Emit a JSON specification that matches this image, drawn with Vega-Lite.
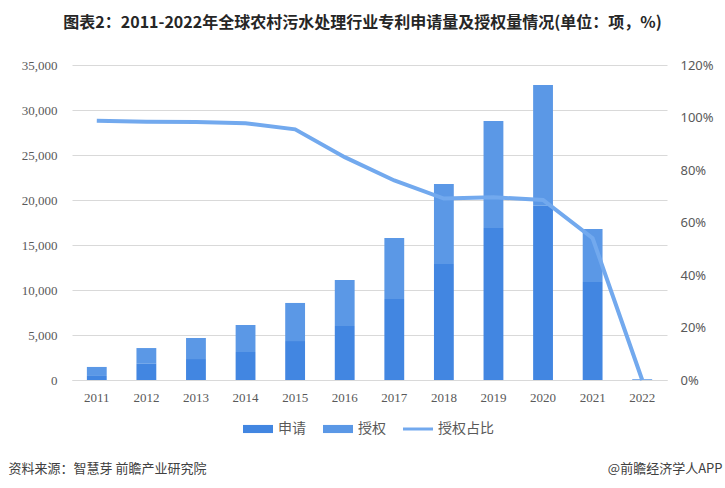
{
  "$schema": "https://vega.github.io/schema/vega-lite/v6.json",
  "width": 595,
  "height": 315,
  "autosize": {"type": "none"},
  "padding": {"left": 72, "top": 65, "right": 58, "bottom": 108},
  "background": "white",
  "title": {
    "text": "图表2：2011-2022年全球农村污水处理行业专利申请量及授权量情况(单位：项，%)",
    "font": "Noto Sans CJK SC",
    "fontSize": 16,
    "fontWeight": "bold",
    "color": "#262626",
    "anchor": "middle",
    "dx": -7,
    "offset": 28
  },
  "data": {
    "values": [
      {"year": "2011", "申请": 450, "授权": 1000, "授权占比": 0.988},
      {"year": "2012", "申请": 1800, "授权": 1750, "授权占比": 0.984},
      {"year": "2013", "申请": 2330, "授权": 2340, "授权占比": 0.983},
      {"year": "2014", "申请": 3110, "授权": 3000, "授权占比": 0.978},
      {"year": "2015", "申请": 4330, "授权": 4230, "授权占比": 0.955},
      {"year": "2016", "申请": 6000, "授权": 5110, "授权占比": 0.849},
      {"year": "2017", "申请": 9000, "授权": 6780, "授权占比": 0.760},
      {"year": "2018", "申请": 12890, "授权": 8890, "授权占比": 0.691},
      {"year": "2019", "申请": 16890, "授权": 11890, "授权占比": 0.696},
      {"year": "2020", "申请": 19370, "授权": 13410, "授权占比": 0.686},
      {"year": "2021", "申请": 10890, "授权": 5890, "授权占比": 0.540},
      {"year": "2022", "申请": 60, "授权": 40, "授权占比": 0.0}
    ]
  },
  "layer": [
    {
      "transform": [{"fold": ["申请", "授权"], "as": ["series", "value"]}],
      "mark": {"type": "bar"},
      "encoding": {
        "x": {
          "field": "year",
          "type": "ordinal",
          "scale": {"paddingInner": 0.6, "paddingOuter": 0.3},
          "axis": {
            "title": null,
            "labelAngle": 0,
            "ticks": false,
            "tickSize": 0,
            "labelPadding": 11,
            "labelFont": "Liberation Serif",
            "labelFontSize": 13,
            "labelColor": "#595959",
            "domainColor": "#d9d9d9",
            "domainWidth": 1
          }
        },
        "y": {
          "field": "value",
          "type": "quantitative",
          "stack": "zero",
          "scale": {"domain": [0, 35000]},
          "axis": {
            "values": [0, 5000, 10000, 15000, 20000, 25000, 30000, 35000],
            "format": ",.0f",
            "ticks": false,
            "tickSize": 0,
            "domain": false,
            "labelPadding": 15,
            "labelFont": "Liberation Serif",
            "labelFontSize": 13,
            "labelColor": "#595959",
            "gridColor": "#d9d9d9",
            "gridWidth": 1,
            "title": "资料来源：智慧芽 前瞻产业研究院",
            "titleAngle": 0,
            "titleAlign": "left",
            "titleBaseline": "middle",
            "titleX": -64,
            "titleY": 403,
            "titleFont": "Noto Sans CJK SC",
            "titleFontSize": 13,
            "titleFontWeight": "normal",
            "titleColor": "#404040"
          }
        },
        "color": {
          "field": "series",
          "type": "nominal",
          "scale": {"domain": ["申请", "授权"], "range": ["#4286E1", "#5B98E6"]},
          "legend": null
        },
        "order": {"field": "series", "sort": "descending"}
      }
    },
    {
      "mark": {"type": "line", "strokeWidth": 4, "color": "#72A9EE"},
      "encoding": {
        "x": {"field": "year", "type": "ordinal"},
        "y": {
          "field": "授权占比",
          "type": "quantitative",
          "scale": {"domain": [0, 1.2]},
          "axis": {
            "orient": "right",
            "values": [0, 0.2, 0.4, 0.6, 0.8, 1.0, 1.2],
            "format": ".0%",
            "grid": false,
            "ticks": false,
            "tickSize": 0,
            "domain": false,
            "labelPadding": 13,
            "labelFont": "Noto Sans",
            "labelFontSize": 13,
            "labelColor": "#595959",
            "title": "@前瞻经济学人APP",
            "titleAngle": 0,
            "titleAlign": "right",
            "titleBaseline": "middle",
            "titleX": 55,
            "titleY": 403,
            "titleFont": "Noto Sans CJK SC",
            "titleFontSize": 13,
            "titleFontWeight": "normal",
            "titleColor": "#404040"
          }
        }
      }
    },
    {
      "transform": [{"fold": ["申请", "授权", "授权占比"], "as": ["series", "v"]}],
      "mark": {"type": "point", "filled": true, "opacity": 0},
      "encoding": {
        "x": {"field": "year", "type": "ordinal"},
        "color": {
          "field": "series",
          "type": "nominal",
          "scale": {"domain": ["申请", "授权", "授权占比"], "range": ["#4286E1", "#5B98E6", "#72A9EE"]},
          "legend": {"title": null}
        },
        "shape": {
          "field": "series",
          "type": "nominal",
          "scale": {
            "domain": ["申请", "授权", "授权占比"],
            "range": ["M-1,-0.27H1V0.27H-1Z", "M-1,-0.27H1V0.27H-1Z", "M-1,-0.1H1V0.1H-1Z"]
          },
          "legend": {"title": null}
        }
      }
    }
  ],
  "resolve": {"scale": {"y": "independent", "color": "independent", "shape": "independent"}},
  "config": {
    "view": {"stroke": null},
    "legend": {
      "orient": "none",
      "legendX": 171,
      "legendY": 349,
      "direction": "horizontal",
      "symbolSize": 900,
      "symbolOpacity": 1,
      "symbolStrokeWidth": 0,
      "labelFont": "Noto Sans CJK SC",
      "labelFontSize": 14,
      "labelColor": "#595959",
      "labelOffset": 5,
      "columnPadding": 17
    }
  }
}
